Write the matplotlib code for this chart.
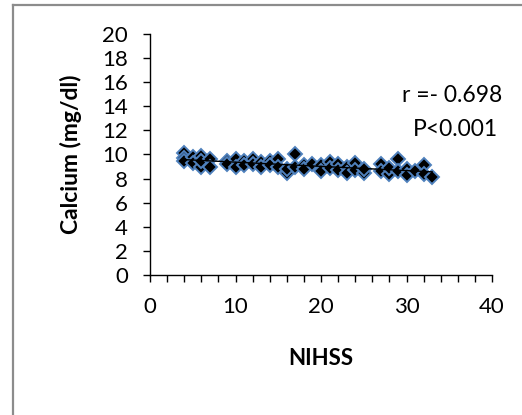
import matplotlib
matplotlib.use("Agg")
import matplotlib.pyplot as plt
import numpy as np
from matplotlib.ticker import MultipleLocator

nihss = [4, 4, 4, 5, 5, 6, 6, 6, 7, 7, 9, 9, 10, 10, 11, 11, 12, 12, 13, 13,
         14, 14, 15, 15, 16, 16, 17, 17, 18, 18, 19, 20, 20, 21, 21, 22, 22,
         23, 23, 24, 24, 25, 25, 27, 27, 28, 28, 29, 29, 30, 30, 31, 32, 32, 33]
calcium = [10.1, 9.7, 9.5, 9.8, 9.3, 9.9, 9.0, 9.5, 9.6, 9.0, 9.5, 9.2, 9.6, 9.0,
           9.5, 9.1, 9.6, 9.2, 9.4, 9.0, 9.5, 9.1, 9.6, 9.0, 8.5, 8.8, 10.0, 9.0,
           9.1, 8.8, 9.2, 9.1, 8.6, 9.4, 8.9, 9.2, 8.7, 9.0, 8.5, 9.3, 8.7, 8.5,
           8.8, 9.2, 8.6, 8.4, 8.9, 9.6, 8.6, 8.8, 8.3, 8.6, 9.1, 8.4, 8.1]
stat_lines = ["r =- 0.698", "P<0.001"]

plt.rcParams['font.family'] = ['Lato', 'DejaVu Sans']

fig = plt.figure(figsize=(5.22, 4.15), dpi=100)
ax = fig.add_axes([150/522, 1-275/415, (492-150)/522, (275-34)/415])

x = np.array(nihss, dtype=float)
y = np.array(calcium, dtype=float)
ax.plot(x, y, linestyle='none', marker='D', markersize=7.2,
        markerfacecolor='black', markeredgecolor='#4f81bd', markeredgewidth=1.4,
        zorder=3)
k, b = np.polyfit(x, y, 1)
xs = np.array([x.min(), x.max()])
ax.plot(xs, k*xs + b, color='black', linewidth=1.0, zorder=4)

ax.set_xlim(0, 40)
ax.set_ylim(0, 20)
ax.xaxis.set_major_locator(MultipleLocator(10))
ax.xaxis.set_minor_locator(MultipleLocator(2))
ax.yaxis.set_major_locator(MultipleLocator(2))
for s in ['top', 'right']:
    ax.spines[s].set_visible(False)
for s in ['left', 'bottom']:
    ax.spines[s].set_linewidth(1.0)
ax.tick_params(axis='both', which='both', direction='out', length=5, width=1.0,
               labelsize=16, colors='black')
ax.tick_params(axis='x', pad=11)
ax.tick_params(axis='y', pad=11)

ax.set_xlabel('NIHSS', fontsize=16, fontweight='bold', labelpad=22)
ax.set_ylabel('Calcium (mg/dl)', fontsize=16.5, fontweight='bold', labelpad=14)

fig.text(452/522, 1-96/415, stat_lines[0], fontsize=16.5, ha='center', va='center')
fig.text(455/522, 1-130/415, stat_lines[1], fontsize=16.5, ha='center', va='center')

# outer chart frame (left and top visible)
fig.add_artist(plt.Line2D([12.5/522, 12.5/522], [0, 1-5.5/415], color='#8c8c8c',
                          linewidth=1.6, transform=fig.transFigure))
fig.add_artist(plt.Line2D([12.5/522, 1], [1-5.5/415, 1-5.5/415], color='#8c8c8c',
                          linewidth=1.6, transform=fig.transFigure))

fig.savefig('out.png', dpi=100)
